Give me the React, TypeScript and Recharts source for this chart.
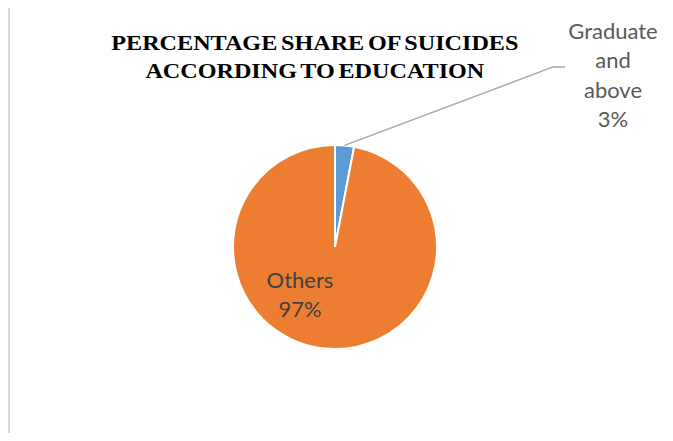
import { PieChart, Pie, Cell } from "recharts";

const categories = ["Graduate and above", "Others"];
const shares = [3, 97];
const labelLines = [["Graduate", "and", "above", "3%"], ["Others", "97%"]];
const colors = ["#5b9bd5", "#ed7d31"];

const data = categories.map((name, i) => ({ name, value: shares[i] }));

const RAD = Math.PI / 180;

// eslint-disable-next-line @typescript-eslint/no-explicit-any
function SliceLabel({ cx, cy, midAngle, outerRadius, index }: any) {
  const lines = labelLines[index];
  const font = { fontFamily: "Lato, 'Open Sans', sans-serif", fontSize: 22 };
  if (index === 0) {
    // outside label with leader line
    const sx = cx + outerRadius * Math.cos(-midAngle * RAD);
    const sy = cy + outerRadius * Math.sin(-midAngle * RAD);
    const ex = cx + 218;
    const ey = cy - 180;
    const tx = cx + 278;
    return (
      <g>
        <polyline
          points={`${sx},${sy} ${ex},${ey} ${ex + 12},${ey}`}
          fill="none"
          stroke="#a6a6a6"
          strokeWidth={1.3}
        />
        {lines.map((l, i) => (
          <text key={i} x={tx} y={cy - 208 + i * 29.3} textAnchor="middle" fill="#595959" {...font}>
            {l}
          </text>
        ))}
      </g>
    );
  }
  const tx = cx - 35;
  return (
    <g>
      {lines.map((l, i) => (
        <text key={i} x={tx} y={cy + 41 + i * 29.3} textAnchor="middle" fill="#404040" {...font}>
          {l}
        </text>
      ))}
    </g>
  );
}

export default function App() {
  return (
    <div style={{ position: "relative", width: 673, height: 441, margin: -8, background: "#fff", overflow: "hidden" }}>
      <div
        style={{
          position: "absolute",
          left: 8,
          top: 4,
          width: 700,
          height: 500,
          border: "2px solid #d9d9d9",
          boxSizing: "border-box",
        }}
      />
      <div
        style={{
          position: "absolute",
          left: 65,
          top: 29,
          width: 500,
          textAlign: "center",
          fontFamily: "'Liberation Serif', 'Times New Roman', serif",
          fontWeight: "bold",
          fontSize: 21,
          lineHeight: "28px",
          color: "#000",
          transform: "scaleX(1.15)",
          transformOrigin: "251px 0",
          wordSpacing: -2,
        }}
      >
        PERCENTAGE SHARE OF SUICIDES
        <br />
        ACCORDING TO EDUCATION
      </div>
      <div style={{ position: "absolute", left: 0, top: 0 }}>
        <PieChart width={673} height={441} margin={{ top: 0, right: 0, bottom: 0, left: 0 }}>
          <Pie
            data={data}
            dataKey="value"
            nameKey="name"
            cx={335}
            cy={247}
            outerRadius={102}
            startAngle={90}
            endAngle={-270}
            stroke="#ffffff"
            strokeWidth={2}
            label={SliceLabel}
            labelLine={false}
            isAnimationActive={false}
          >
            {data.map((d, i) => (
              <Cell key={d.name} fill={colors[i]} />
            ))}
          </Pie>
        </PieChart>
      </div>
    </div>
  );
}
